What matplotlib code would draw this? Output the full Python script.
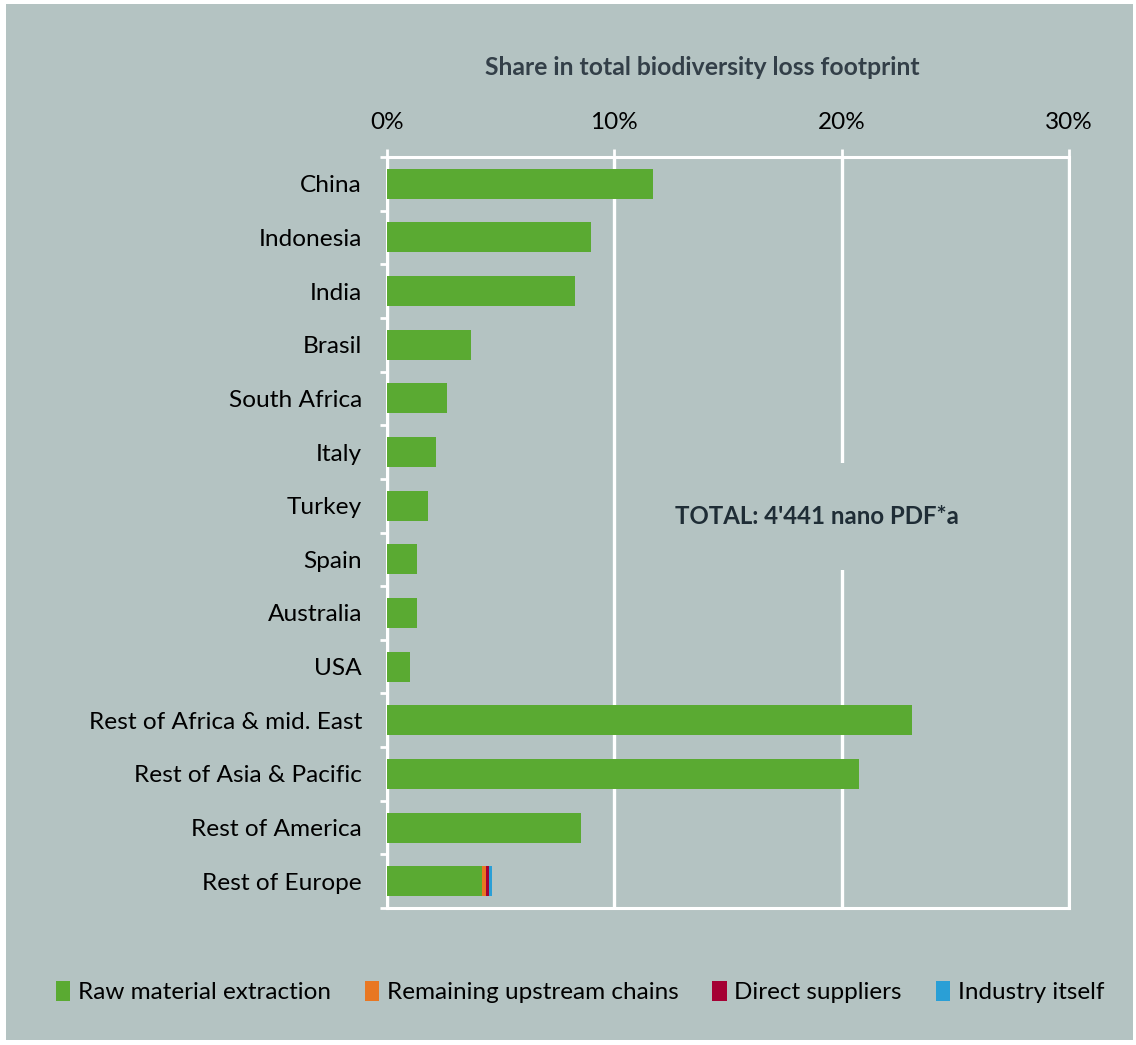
import matplotlib
matplotlib.use("Agg")
import matplotlib.pyplot as plt
from matplotlib.patches import Rectangle, Patch
import numpy as np

# Regions, top to bottom
regions = ["China", "Indonesia", "India", "Brasil", "South Africa", "Italy",
           "Turkey", "Spain", "Australia", "USA", "Rest of Africa & mid. East",
           "Rest of Asia & Pacific", "Rest of America", "Rest of Europe"]

# Shares (%) per supply-chain stage
raw_material = [11.7, 8.97, 8.27, 3.7, 2.64, 2.16, 1.8, 1.32, 1.32, 1.01,
                23.1, 20.77, 8.53, 4.2]
upstream = [0, 0, 0, 0, 0, 0, 0, 0, 0, 0, 0, 0, 0, 0.15]
direct_suppliers = [0, 0, 0, 0, 0, 0, 0, 0, 0, 0, 0, 0, 0, 0.13]
industry_itself = [0, 0, 0, 0, 0, 0, 0, 0, 0, 0, 0, 0, 0, 0.13]

series_names = ["Raw material extraction", "Remaining upstream chains",
                "Direct suppliers", "Industry itself"]
series_colors = ["#5AAA32", "#E87722", "#A50034", "#2A9FD6"]

x_ticks = [0, 10, 20, 30]
title = "Share in total biodiversity loss footprint"
total_note = "TOTAL: 4'441 nano PDF*a"

BG = "#B4C3C2"
plt.rcParams['font.family'] = ['Lato', 'DejaVu Sans']

fig = plt.figure(figsize=(11.36, 10.45), dpi=100, facecolor="white")
fig.patches.append(Rectangle((6 / 1136, 5 / 1045), 1127 / 1136, 1036 / 1045,
                             transform=fig.transFigure, facecolor=BG,
                             edgecolor="none", zorder=-5))

ax = fig.add_axes([387 / 1136, 1 - 908 / 1045, 682 / 1136, 751 / 1045])
ax.set_facecolor(BG)

y = np.arange(len(regions))
left = np.zeros(len(regions))
for vals, color in zip([raw_material, upstream, direct_suppliers, industry_itself],
                       series_colors):
    vals = np.array(vals)
    ax.barh(y, vals, left=left, height=0.56, color=color, zorder=3)
    left += vals

ax.set_xlim(0, 30)
ax.set_ylim(len(regions) - 0.5, -0.5)

ax.xaxis.tick_top()
ax.set_xticks(x_ticks)
ax.set_xticklabels([f"{t}%" for t in x_ticks])
ax.tick_params(axis="x", colors="white", labelcolor="black", labelsize=17.5,
               length=6, width=2, pad=11)

ax.set_yticks(y)
ax.set_yticklabels(regions)
ax.set_yticks(np.arange(-0.5, len(regions)), minor=True)
ax.tick_params(axis="y", which="major", length=0, labelsize=17.6, pad=18)
ax.tick_params(axis="y", which="minor", colors="white", length=5, width=2)

ax.grid(axis="x", color="white", linewidth=2.4, zorder=1)
ax.set_axisbelow(True)
for side in ["left", "top", "bottom", "right"]:
    ax.spines[side].set_color("white")
    ax.spines[side].set_linewidth(2.2)

ax.text(18.9, 6.21, total_note, ha="center", va="center", fontsize=17.3,
        fontweight="bold", color="#1F2D36", zorder=4,
        bbox=dict(boxstyle="square,pad=1.75", facecolor=BG, edgecolor="none"))

fig.text(702 / 1136, 1 - 68 / 1045, title, ha="center", va="center",
         fontsize=17.8, fontweight="bold", color="#333F48")

handles = [Patch(facecolor=c, edgecolor="none") for c in series_colors]
fig.legend(handles, series_names, loc="center", ncol=4, frameon=False,
           bbox_to_anchor=(580 / 1136, 1 - 992 / 1045), fontsize=17.5,
           handlelength=0.6, handleheight=0.9, handletextpad=0.3,
           columnspacing=1.4)

fig.savefig("out.png", dpi=100, facecolor="white")
